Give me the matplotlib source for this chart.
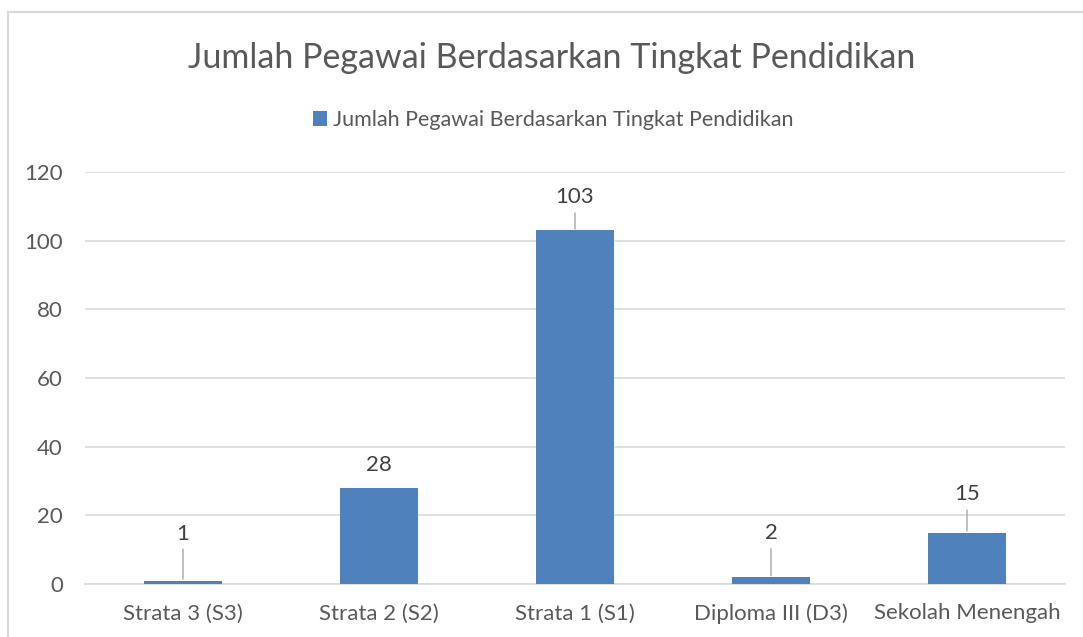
import matplotlib.pyplot as plt
from matplotlib.patches import Rectangle

plt.rcParams['font.family'] = ['Lato', 'DejaVu Sans']

categories = ['Strata 3 (S3)', 'Strata 2 (S2)', 'Strata 1 (S1)', 'Diploma III (D3)', 'Sekolah Menengah']
values = [1, 28, 103, 2, 15]
series_name = 'Jumlah Pegawai Berdasarkan Tingkat Pendidikan'

# label offsets above bar tops (pixels), as placed in the source chart
label_offsets = [47, 23, 33, 44, 38]
leader = [True, False, True, True, True]

bar_color = '#4f81bd'
text_color = '#595959'
grid_color = '#d9d9d9'

fig = plt.figure(figsize=(10.83, 6.37), dpi=100)
ax = fig.add_axes([85 / 1083, 1 - 584 / 637, 980 / 1083, 412 / 637])

x = range(len(categories))
ax.bar(x, values, width=0.4, color=bar_color, label=series_name, zorder=3)

ax.set_xlim(-0.5, len(categories) - 0.5)
ax.set_ylim(0, 120)
ax.set_yticks(range(0, 121, 20))
ax.set_xticks(list(x))
ax.set_xticklabels(categories)
ax.tick_params(axis='both', length=0, labelsize=16, colors=text_color)
ax.tick_params(axis='x', pad=14)
ax.tick_params(axis='y', pad=16)
ax.grid(axis='y', color=grid_color, linewidth=1.2, zorder=0)
for s in ['top', 'right', 'left']:
    ax.spines[s].set_visible(False)
ax.spines['bottom'].set_color(grid_color)
ax.spines['bottom'].set_linewidth(1.2)

for i, (v, off, ld) in enumerate(zip(values, label_offsets, leader)):
    props = dict(arrowstyle='-', color='#a6a6a6', lw=1, shrinkA=2, shrinkB=1) if ld else None
    ax.annotate(str(v), xy=(i, v), xytext=(0, off), textcoords='offset pixels',
                ha='center', va='center', fontsize=16, color='#404040',
                arrowprops=props, zorder=4)

fig.text(0.509, 1 - 58 / 637, series_name, ha='center', va='center',
         fontsize=24.5, color=text_color)
fig.legend(loc='center', bbox_to_anchor=(0.511, 1 - 120 / 637), frameon=False,
           fontsize=15.5, handlelength=0.65, handleheight=0.65, handletextpad=0.25,
           labelcolor=text_color)

fig.patches.append(Rectangle((8 / 1083, -0.05), 1.1, 1 - 12 / 637 + 0.05,
                             transform=fig.transFigure, fill=False,
                             edgecolor='#d9d9d9', linewidth=1.5))

fig.savefig('out.png', dpi=100)
